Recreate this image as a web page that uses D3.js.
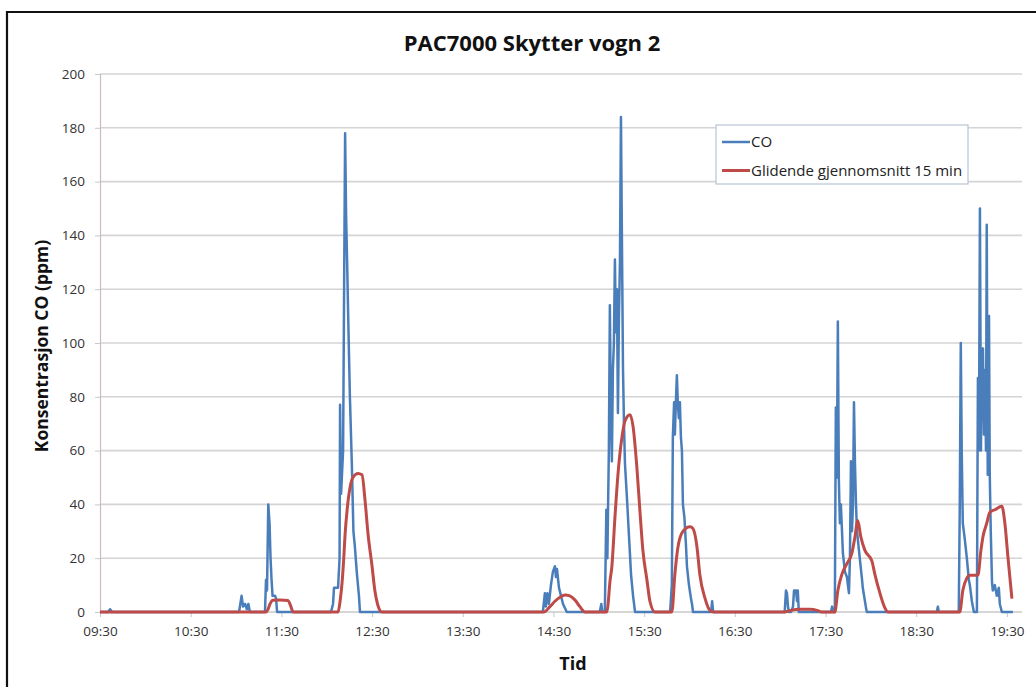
<!DOCTYPE html>
<html>
<head>
<meta charset="utf-8">
<script src="https://cdn.jsdelivr.net/npm/d3@7"></script>
<style>
  html, body { margin: 0; padding: 0; background: #fff; }
  svg { display: block; }
  text { font-family: "Open Sans", "Noto Sans", sans-serif; }
</style>
</head>
<body>
<svg id="chart" width="1036" height="687"></svg>
<script>
// CO concentration (ppm), logged over the day
const coTimes = [
  "09:30:00","09:35:20","09:36:40","09:38:00",
  "11:02:00","11:03:40","11:04:40","11:06:00","11:07:10","11:08:10","11:09:10",
  "11:19:10","11:19:50","11:20:30","11:21:20","11:22:10","11:22:50","11:23:30","11:24:10","11:25:50","11:26:30","11:27:10",
  "12:02:50","12:04:10","12:04:50","12:07:30","12:08:30","12:08:50","12:09:30","12:10:10","12:10:50","12:11:30","12:12:10",
  "12:12:50","12:13:30","12:14:10","12:15:20","12:16:40","12:17:40","12:18:40","12:20:00","12:21:20","12:22:00",
  "14:23:00","14:24:20","14:25:00","14:26:00","14:27:00","14:28:20","14:29:40","14:31:00","14:31:40","14:32:20","14:33:40","14:35:00","14:36:20","14:38:50",
  "15:00:40","15:01:40","15:02:20",
  "15:04:00","15:05:00","15:05:40","15:06:40","15:07:20","15:08:00","15:08:40","15:09:20","15:10:00","15:10:40","15:11:20","15:12:00",
  "15:12:40","15:13:20","15:14:00","15:14:40","15:15:20","15:16:00","15:16:40","15:17:20","15:18:40","15:20:00","15:21:20","15:22:40","15:24:00",
  "15:47:10","15:48:20","15:49:00","15:49:50","15:50:20","15:51:00","15:51:40","15:52:20","15:53:00","15:53:40","15:54:20","15:55:00",
  "15:55:40","15:56:40","15:57:40","15:58:20","15:59:40","16:01:00","16:01:40","16:02:20",
  "16:14:20","16:15:00","16:15:40",
  "17:03:00","17:03:50","17:04:30","17:05:10","17:05:50","17:07:10","17:08:30","17:09:10","17:10:30","17:11:10","17:11:40","17:12:20",
  "17:33:40","17:34:20","17:35:00",
  "17:36:10","17:36:50","17:37:30","17:38:10","17:38:50","17:39:30","17:40:10","17:41:30","17:42:50","17:44:10","17:45:30","17:46:10",
  "17:46:50","17:47:30","17:48:10","17:48:50","17:49:30","17:50:10","17:50:50","17:52:40","17:54:10","17:54:40","17:56:40","17:57:20",
  "18:43:40","18:44:20","18:45:00",
  "18:58:10","18:58:50","18:59:30","19:00:10","19:00:50","19:02:10","19:03:30","19:04:50","19:05:30","19:06:50","19:07:30","19:08:10",
  "19:10:10","19:10:50","19:11:30","19:12:10","19:12:50","19:13:30","19:14:10","19:14:50","19:15:30","19:16:10","19:16:40","19:17:20",
  "19:18:10","19:18:40","19:19:20","19:20:10","19:20:40","19:22:00","19:23:20","19:24:40","19:25:20","19:26:40","19:34:00"
];
const coValues = [
  0,0,1,0,
  0,6,2,3,1,3,0,
  0,12,8,40,33,20,12,6,6,5,0,
  0,3,9,9,20,77,44,52,60,120,178,
  147,130,111,80,54,30,24,14,6,0,
  0,7,2,7,3,10,15,17,13,16,9,6,3,0,
  0,3,0,
  0,38,20,60,114,75,56,90,100,131,104,120,
  74,110,130,184,137,91,70,55,42,28,14,6,0,
  0,10,65,78,66,78,88,77,72,78,65,60,
  40,35,25,17,10,5,3,0,
  0,4,0,
  0,8,7,2,0,0,2,8,8,4,8,0,
  0,2,0,
  0,76,50,108,49,33,40,22,15,13,7,20,
  56,30,40,78,55,40,30,20,12,9,2,0,
  0,2,0,
  0,40,100,58,33,27,20,12,10,4,2,0,
  0,87,60,150,60,95,98,66,90,60,144,51,
  110,51,30,11,8,10,6,9,3,0,0
];

// 15-minute moving average of CO (ppm)
const avgTimes = [
  "09:30:00","11:19:50","11:21:10","11:22:30","11:24:20","11:29:10","11:34:20","11:36:20","11:37:40",
  "12:07:30","12:08:50","12:10:10","12:11:10","12:12:10","12:13:30","12:15:20","12:17:20","12:20:40","12:23:20",
  "12:25:20","12:27:20","12:30:00","12:31:50","12:33:50","12:36:30",
  "14:23:40","14:27:40","14:31:00","14:34:20","14:37:40","14:40:50","14:44:10","14:47:30","14:50:50",
  "15:05:20","15:06:10","15:07:20","15:08:40","15:10:40","15:12:40","15:15:20","15:17:20","15:20:40","15:22:40",
  "15:25:10","15:27:10","15:29:10","15:31:50","15:33:50","15:37:10",
  "15:48:20","15:50:20","15:52:20","15:55:40","16:00:20","16:02:20","16:05:00","16:06:50","16:10:20","16:13:40","16:15:40",
  "17:03:00","17:06:20","17:13:10","17:19:40","17:25:00","17:27:40",
  "17:36:10","17:38:10","17:40:50","17:44:10","17:47:30","17:49:30","17:51:20","17:53:20","17:56:00","18:00:40",
  "18:02:40","18:06:00","18:09:20","18:11:20",
  "18:58:50","19:00:50","19:03:30","19:05:30","19:10:50","19:12:50","19:14:10","19:16:40","19:18:40","19:22:00",
  "19:26:40","19:28:40","19:30:40","19:33:20"
];
const avgValues = [
  0,0,1,3,4.4,4.5,4.3,2,0,
  0,4,11,19,29,38,46,50,51.5,51,
  41.6,29,17,8,2.5,0,
  0,2,4,5.5,6.3,6,4.5,2,0,
  0,3,11,17,35,51,65,71,73.3,69,
  54,38,23,12,4,0,
  0,14,24,30,31.7,31,24,14,5,0.5,0,
  0,0.5,1,1,0.5,0,
  0,8,14,18,22,28,34,28,23,19,
  14,7,1.5,0,
  0,8,12.6,13.7,13.7,23,28,33,37,38,
  39.3,33,20.6,5
];

const yTicks = [0, 20, 40, 60, 80, 100, 120, 140, 160, 180, 200];
const xTickLabels = ["09:30","10:30","11:30","12:30","13:30","14:30","15:30","16:30","17:30","18:30","19:30"];

const titleText = "PAC7000 Skytter vogn 2";
const xTitle = "Tid";
const yTitle = "Konsentrasjon CO (ppm)";
const seriesNames = ["CO", "Glidende gjennomsnitt 15 min"];
const seriesColors = ["#4a7ebb", "#be4b48"];

const parseT = d3.timeParse("%H:%M:%S");
const parseHM = d3.timeParse("%H:%M");

const svg = d3.select("#chart");
const W = 1036, H = 687;
const plot = { left: 100, right: 1022, top: 74, bottom: 612 };

// chart frame (open on the right and bottom, as cropped)
svg.append("path")
  .attr("d", `M7,${H + 2} L7,12 L${W + 2},12`)
  .attr("fill", "none").attr("stroke", "#111").attr("stroke-width", 2.2);

const x = d3.scaleTime()
  .domain([parseHM("09:30"), parseHM("19:40")])
  .range([plot.left, plot.right]);
const y = d3.scaleLinear()
  .domain([0, 200])
  .range([plot.bottom, plot.top]);

// horizontal gridlines
svg.append("g")
  .selectAll("line")
  .data(yTicks.filter(v => v > 0))
  .join("line")
  .attr("x1", plot.left).attr("x2", plot.right)
  .attr("y1", d => y(d)).attr("y2", d => y(d))
  .attr("stroke", "#d4d4d4").attr("stroke-width", 1.6);

// y axis
const yAxis = svg.append("g")
  .attr("transform", `translate(${plot.left},0)`)
  .call(d3.axisLeft(y).tickValues(yTicks).tickSize(5).tickPadding(10));
yAxis.select(".domain").attr("stroke", "#c8bcbf").attr("stroke-width", 1.2);
yAxis.selectAll(".tick line").attr("stroke", "#c8c8c8");
yAxis.selectAll(".tick text")
  .attr("fill", "#333").style("font-size", "13.5px");

// x axis
const xAxis = svg.append("g")
  .attr("transform", `translate(0,${plot.bottom})`)
  .call(d3.axisBottom(x)
    .tickValues(xTickLabels.map(parseHM))
    .tickFormat(d3.timeFormat("%H:%M"))
    .tickSize(5).tickPadding(9));
xAxis.select(".domain").attr("stroke", "#c8c8c8").attr("stroke-width", 1.5)
  .attr("d", `M${plot.left},0H${plot.right}`);
xAxis.selectAll(".tick line").attr("stroke", "#c8c8c8");
xAxis.selectAll(".tick text")
  .attr("fill", "#333").style("font-size", "13.5px");

// series
const coData = coTimes.map((t, i) => ({ t: parseT(t), v: coValues[i] }));
const avgData = avgTimes.map((t, i) => ({ t: parseT(t), v: avgValues[i] }));

const line = d3.line().x(d => x(d.t)).y(d => y(d.v));
const smooth = d3.line().x(d => x(d.t)).y(d => y(d.v)).curve(d3.curveMonotoneX);

svg.append("path").datum(coData)
  .attr("d", line)
  .attr("fill", "none").attr("stroke", seriesColors[0])
  .attr("stroke-width", 2.5).attr("stroke-linejoin", "round");

svg.append("path").datum(avgData)
  .attr("d", smooth)
  .attr("fill", "none").attr("stroke", seriesColors[1])
  .attr("stroke-width", 3).attr("stroke-linejoin", "round");

// title and axis titles
svg.append("text")
  .attr("x", 532).attr("y", 51)
  .attr("text-anchor", "middle")
  .style("font-size", "22px").style("font-weight", "bold")
  .attr("fill", "#111")
  .text(titleText);

svg.append("text")
  .attr("x", 573).attr("y", 670)
  .attr("text-anchor", "middle")
  .style("font-size", "18px").style("font-weight", "bold")
  .attr("fill", "#111")
  .text(xTitle);

svg.append("text")
  .attr("transform", `translate(48,${(plot.top + plot.bottom) / 2 + 3}) rotate(-90)`)
  .attr("text-anchor", "middle")
  .style("font-size", "17.5px").style("font-weight", "bold")
  .attr("fill", "#111")
  .text(yTitle);

// legend
const lg = svg.append("g").attr("transform", "translate(716,125)");
lg.append("rect")
  .attr("width", 252).attr("height", 59)
  .attr("fill", "#fff").attr("stroke", "#b9c3d3").attr("stroke-width", 1.2);
seriesNames.forEach((name, i) => {
  const yy = 17 + i * 28.5;
  lg.append("line")
    .attr("x1", 6).attr("x2", 34).attr("y1", yy).attr("y2", yy)
    .attr("stroke", seriesColors[i]).attr("stroke-width", i === 0 ? 2.5 : 3);
  lg.append("text")
    .attr("x", 35).attr("y", yy + 5)
    .style("font-size", "15px").attr("fill", "#222")
    .text(name);
});
</script>
</body>
</html>
